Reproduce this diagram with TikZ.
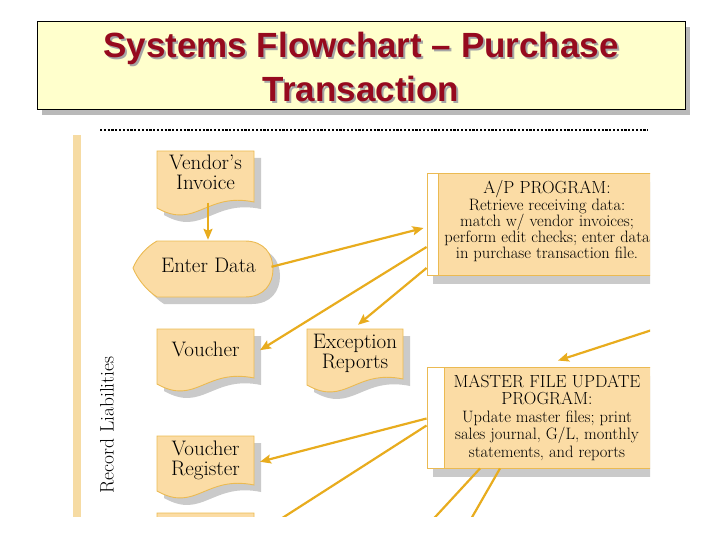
\documentclass[tikz,border=0pt]{standalone}
\usepackage{fontspec}
\newfontfamily\titlefont{Liberation Sans}
\usetikzlibrary{calc,arrows.meta}
\definecolor{docfill}{HTML}{FBDCA5}
\definecolor{docline}{HTML}{EBBA52}
\definecolor{arrowc}{HTML}{E8AC1E}
\definecolor{shadowc}{HTML}{CACACA}
\definecolor{titlered}{HTML}{960A1E}
\definecolor{titlefill}{HTML}{FFFFCC}
\definecolor{barc}{HTML}{F6DBA3}
\tikzset{
  docfillstyle/.style={fill=docfill, draw=docline, line width=0.9pt},
  shadowfill/.style={fill=shadowc},
  arr/.style={draw=arrowc, line width=2.2pt, -{Stealth[length=11pt,width=9pt,inset=2pt]}},
  plainline/.style={draw=arrowc, line width=2.2pt},
  bigtxt/.style={font=\fontsize{21}{20}\selectfont, align=center, inner sep=0pt},
  progtxt/.style={font=\fontsize{16.5}{16}\selectfont, align=center, inner sep=0pt},
  progbox/.style={fill=docfill, draw=docline, line width=0.9pt, inner sep=0pt},
  titletxt/.style={font=\titlefont\bfseries\fontsize{35}{44}\selectfont, align=center, inner sep=0pt},
}
\newcommand\docshape[4]{%
  \fill[shadowfill] ({#1+7},{#2+7}) -- ({#3+7},{#2+7}) -- ({#3+7},{#4+7}) .. controls ({#3+7-0.5*(#3-#1)},{#4-3}) and ({#1+7+0.4*(#3-#1)},{#4+35}) .. ({#1+7},{#4+13}) -- cycle;
  \filldraw[docfillstyle] (#1,#2) -- (#3,#2) -- (#3,#4) .. controls ({#3-0.5*(#3-#1)},{#4-10}) and ({#1+0.4*(#3-#1)},{#4+28}) .. (#1,{#4+6}) -- cycle;}
\begin{document}
\begin{tikzpicture}[x=1pt,y=-1pt]
\useasboundingbox (0,0) rectangle (720,540);
% title
\fill[gray!55] (42,27) rectangle (690,115);
\filldraw[fill=titlefill, draw=black, line width=1pt] (37,22) rectangle (685,110);
\node[titletxt, text=gray!70] (titleshadow) at (363,69) {Systems Flowchart – Purchase\\Transaction};
\node[titletxt, text=titlered] (title) at (361,67) {Systems Flowchart – Purchase\\Transaction};

\begin{scope}
\clip (0,118) rectangle (650,516);
% dotted line
\draw[black, line width=2.5pt, dash pattern=on 2.2pt off 1.6pt] (100,130) -- (648,130);
% lane bar
\fill[barc] (73,135) rectangle (81,520);
\node[font=\fontsize{19.5}{19.5}\selectfont, rotate=90, inner sep=0pt] (lane) at (107,425) {Record Liabilities};

% documents
\docshape{157}{151}{254}{202}
\docshape{157}{329}{254}{378}
\docshape{307}{329}{403}{379}
\docshape{157}{436}{254}{485}
\docshape{157}{513}{254}{563}

% enter data display shape
\begin{scope}[shift={(7,7)}]
\fill[shadowfill] (157,241) -- (245,241) .. controls (264,241) and (273,254) .. (273,269) .. controls (273,284) and (264,297) .. (245,297) -- (157,297) .. controls (146,290) and (137,278) .. (133,268) .. controls (137,258) and (146,247) .. (157,241) -- cycle;
\end{scope}
\filldraw[docfillstyle] (157,241) -- (245,241) .. controls (264,241) and (273,254) .. (273,269) .. controls (273,284) and (264,297) .. (245,297) -- (157,297) .. controls (146,290) and (137,278) .. (133,268) .. controls (137,258) and (146,247) .. (157,241) -- cycle;

% program boxes
\fill[shadowfill] (433,182) rectangle (663,284);
\node[progbox, minimum width=230, minimum height=102] (ap) at (542,224) {};
\filldraw[fill=white, draw=docline, line width=0.9pt] (427,173) rectangle (438,275);
\fill[shadowfill] (433,376) rectangle (663,477);
\node[progbox, minimum width=230, minimum height=101] (master) at (542,417.5) {};
\filldraw[fill=white, draw=docline, line width=0.9pt] (427,367) rectangle (444,468);

% texts
\node[bigtxt] (vendor) at (205.5,172.7) {Vendor's\\Invoice};
\node[bigtxt] (enter) at (208.5,265.8) {Enter Data};
\node[bigtxt] (voucher) at (205.5,349.7) {Voucher};
\node[bigtxt] (exception) at (355,353.3) {Exception\\Reports};
\node[bigtxt] (register) at (205.5,460.3) {Voucher\\Register};
\node[progtxt] (aptext) at (547,221) {{\fontsize{17.5}{16}\selectfont A/P PROGRAM:}\\[1pt]Retrieve receiving data:\\match w/ vendor invoices;\\perform edit checks; enter data\\in purchase transaction file.};
\node[progtxt, font=\fontsize{16.5}{17.5}\selectfont] (mastertext) at (547,417.6) {{\fontsize{17.5}{17.5}\selectfont MASTER FILE UPDATE}\\{\fontsize{17.5}{17.5}\selectfont PROGRAM:}\\Update master files; print\\sales journal, G/L, monthly\\statements, and reports};

% connectors
\draw[arr] ($(vendor)+(2.5,30)$) -- ($(enter)+(-0.5,-26)$);
\draw[arr] ($(enter)+(63,1)$) -- ($(ap.west)+(-3,4)$);
\draw[arr] ($(ap.west)+(0,23)$) -- ($(voucher)+(54.5,0.5)$);
\draw[arr] ($(ap.west)+(0,44)$) -- ($(exception)+(3,-28.5)$);
\coordinate (rin) at (652,330);
\draw[arr] (rin) -- ($(master.north)+(16,-6)$);
\draw[arr] ($(master.west)+(0,1)$) -- ($(register)+(54.5,1.5)$);
\coordinate (outA) at (248,540);
\coordinate (outB) at (414,540);
\coordinate (outC) at (459,540);
\draw[plainline] ($(master.west)+(0,8)$) -- (outA);
\draw[plainline] ($(master.south)+(-62,0)$) -- (outB);
\draw[plainline] ($(master.south)+(-42,0)$) -- (outC);
\end{scope}
\end{tikzpicture}
\end{document}
